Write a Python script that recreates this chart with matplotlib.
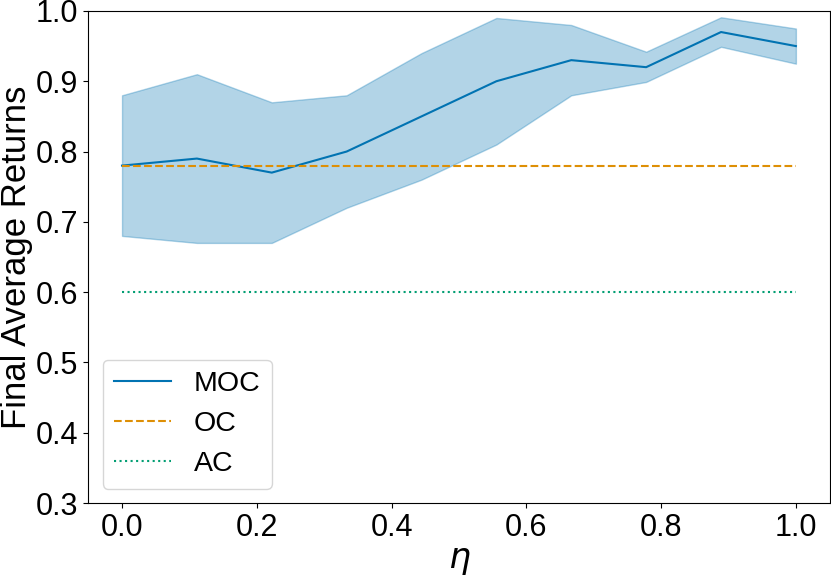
import numpy as np
import matplotlib
matplotlib.use("Agg")
import matplotlib.pyplot as plt

plt.rcParams["font.family"] = ["Liberation Sans", "DejaVu Sans"]

eta = np.linspace(0, 1, 10)
moc_mean = [0.78, 0.79, 0.77, 0.80, 0.85, 0.90, 0.93, 0.92, 0.97, 0.95]
moc_upper = [0.88, 0.91, 0.87, 0.88, 0.94, 0.99, 0.98, 0.942, 0.991, 0.975]
moc_lower = [0.68, 0.67, 0.67, 0.72, 0.76, 0.81, 0.88, 0.899, 0.949, 0.925]
oc_value = 0.78
ac_value = 0.60

blue, orange, green = "#0173b2", "#de8f05", "#029e73"

fig = plt.figure(figsize=(8.31, 5.76), dpi=100)
ax = fig.add_axes([0.1063, 0.1267, 0.8920, 0.8543])

ax.fill_between(eta, moc_lower, moc_upper, color=blue, alpha=0.3)
ax.plot(eta, moc_mean, color=blue, lw=1.5, label="MOC")
ax.plot(eta, [oc_value] * len(eta), color=orange, ls="--", lw=1.5, label="OC")
ax.plot(eta, [ac_value] * len(eta), color=green, ls=":", lw=1.5, label="AC")

ax.set_ylim(0.3, 1.0)
ax.set_xlabel(r"$\eta$", fontsize=25, labelpad=1)
ax.set_ylabel("Final Average Returns", fontsize=25, labelpad=2)
ax.tick_params(labelsize=22)
ax.legend(loc="lower left", fontsize=20.5)

fig.savefig("out.png", dpi=100)
